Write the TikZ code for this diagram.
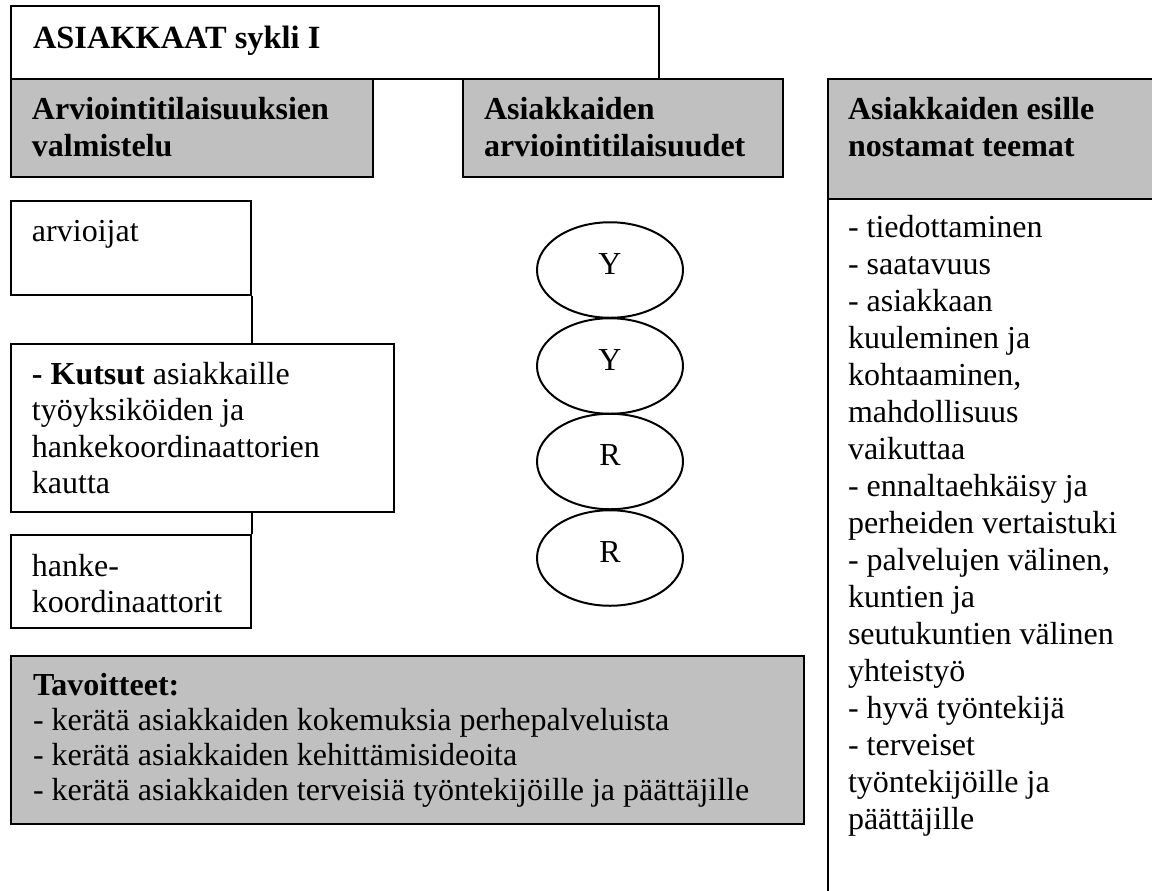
\documentclass[tikz,border=0pt]{standalone}
\usepackage{fontspec}
\setmainfont{Liberation Serif}
\usetikzlibrary{shapes.geometric,calc}
\definecolor{boxgrey}{RGB}{192,192,192}
\lineskiplimit=-20pt\relax
\lineskip=0pt\relax
\begin{document}
\begin{tikzpicture}[x=0.5pt,y=-0.5pt,line width=1pt,
  box/.style={draw=black,rectangle,inner sep=0pt,anchor=north west},
  greybox/.style={box,fill=boxgrey},
  oval/.style={draw=black,ellipse,inner sep=0pt,minimum width=73pt,minimum height=47.75pt},
  txt/.style={anchor=north west,inner sep=0pt,align=left},
  body/.style={txt,font=\fontsize{16}{18.4}\selectfont},
  head/.style={txt,font=\fontsize{16}{18.5}\selectfont\bfseries},
  link/.style={draw=black,line width=1pt}]
\useasboundingbox (0,0) rectangle (1152,890);
\clip (0,0) rectangle (1152,890);
\fill[white] (0,0) rectangle (1152,890);
% boxes
\node[box,minimum width=324pt,minimum height=36.5pt] (title) at (10,5) {};
\node[greybox,minimum width=181pt,minimum height=49pt] (prep) at (10,78) {};
\node[greybox,minimum width=160pt,minimum height=49pt] (events) at (462,78) {};
\node[greybox,minimum width=170pt,minimum height=60pt] (themes) at (827,78) {};
\node[box,minimum width=170pt,minimum height=360pt] (col) at (827,198) {};
\node[box,minimum width=120pt,minimum height=47pt] (arv) at (10,200) {};
\node[box,minimum width=191.5pt,minimum height=84pt] (kut) at (10,343) {};
\node[box,minimum width=120pt,minimum height=46.5pt] (han) at (10,534) {};
\node[greybox,minimum width=396.5pt,minimum height=84pt] (tav) at (10,655) {};
% connectors
\draw[link] (arv.south east) -- (arv.south east |- kut.north);
\draw[link] (han.north east |- kut.south) -- (han.north east);
% ellipses
\node[oval] (e1) at (610,270) {};
\node[oval] (e2) at (610,366) {};
\node[oval] (e3) at (610,461.5) {};
\node[oval] (e4) at (610,558) {};
\foreach \n/\l in {e1/Y,e2/Y,e3/R,e4/R}{
  \node[font=\fontsize{16}{16}\selectfont,inner sep=0pt,anchor=base] (\n t) at ($(\n.center)+(0,4)$) {\l};
}
% texts
\node[txt,font=\fontsize{16.2}{16}\selectfont\bfseries] (titleT) at (32,23) {\rule{0pt}{12pt}ASIAKKAAT sykli I};
\node[head] (prepT) at (31,94) {\rule{0pt}{12pt}Arviointitilaisuuksien\\valmistelu};
\node[head] (eventsT) at (483,94) {\rule{0pt}{12pt}Asiakkaiden\\arviointitilaisuudet};
\node[head] (themesT) at (847,94) {\rule{0pt}{12pt}Asiakkaiden esille\\nostamat teemat};
\node[txt,font=\fontsize{16}{18.5}\selectfont] (colT) at (847,212) {\rule{0pt}{12pt}- tiedottaminen\\- saatavuus\\- asiakkaan\\kuuleminen ja\\kohtaaminen,\\mahdollisuus\\vaikuttaa\\- ennaltaehkäisy ja\\perheiden vertaistuki\\- palvelujen välinen,\\kuntien ja\\seutukuntien välinen\\yhteistyö\\- hyvä työntekijä\\- terveiset\\työntekijöille ja\\päättäjille};
\node[body] (arvT) at (31,216) {\rule{0pt}{12pt}arvioijat};
\node[txt,font=\fontsize{16}{18.25}\selectfont] (kutT) at (31,359) {\rule{0pt}{12pt}\textbf{- Kutsut} asiakkaille\\työyksiköiden ja\\hankekoordinaattorien\\kautta};
\node[body] (hanT) at (31,551) {\rule{0pt}{12pt}hanke-\\koordinaattorit};
\node[txt,font=\fontsize{16}{17.5}\selectfont] (tavT) at (32,670) {\rule{0pt}{12pt}\textbf{Tavoitteet:}\\- kerätä asiakkaiden kokemuksia perhepalveluista\\- kerätä asiakkaiden kehittämisideoita\\- kerätä asiakkaiden terveisiä työntekijöille ja päättäjille};
\end{tikzpicture}
\end{document}
